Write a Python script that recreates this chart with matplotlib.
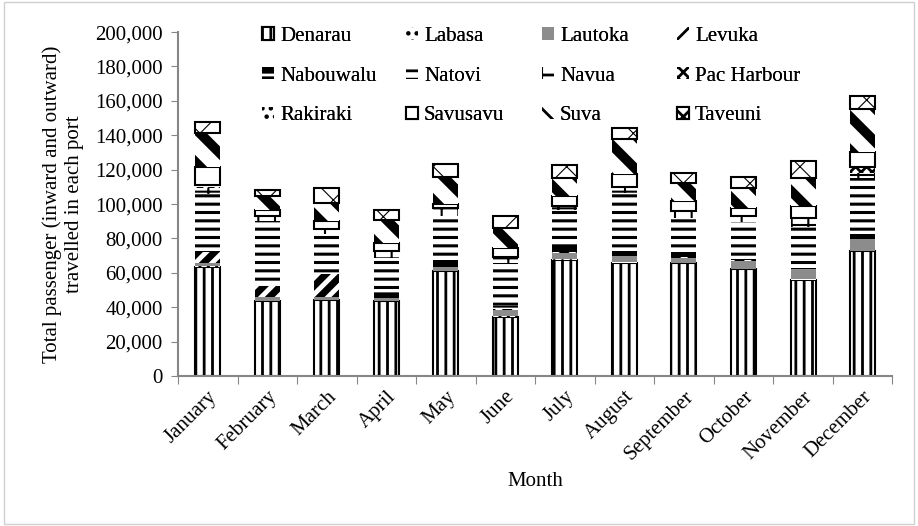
import matplotlib
matplotlib.use("Agg")
import matplotlib.pyplot as plt
from matplotlib.patches import Rectangle
from matplotlib.ticker import FuncFormatter, FixedLocator
import numpy as np

plt.rcParams['font.family'] = ['Liberation Serif', 'DejaVu Serif']
plt.rcParams['hatch.color'] = 'black'
plt.rcParams['hatch.linewidth'] = 2.0

months = ["January", "February", "March", "April", "May", "June", "July",
          "August", "September", "October", "November", "December"]

Denarau = [63500, 43500, 44000, 43500, 61000, 34500, 67500, 66000, 65500, 62000, 56000, 72500]
Labasa = [300, 300, 300, 300, 300, 300, 300, 300, 300, 300, 300, 300]
Lautoka = [2200, 1900, 1500, 1500, 1900, 3900, 3900, 3500, 2900, 4800, 5800, 6800]
Levuka = [6200, 6500, 13300, 300, 300, 300, 300, 300, 300, 200, 200, 300]
Nabouwalu = [400, 300, 300, 3700, 3800, 1800, 2800, 2800, 3200, 500, 500, 2800]
Natovi = [33500, 37500, 23000, 19200, 26000, 25000, 22000, 33800, 19800, 22000, 24000, 32500]
Navua = [3500, 2600, 2600, 3600, 3600, 2600, 1700, 2600, 3600, 2600, 4500, 3000]
PacHarbour = [400, 300, 300, 300, 300, 300, 300, 300, 300, 300, 500, 2800]
Rakiraki = [1000, 300, 300, 300, 300, 300, 300, 300, 300, 300, 400, 500]
Savusavu = [10700, 3600, 4500, 4500, 2600, 5500, 5500, 7400, 5500, 4900, 6500, 8500]
Suva = [19500, 7700, 10700, 13600, 15500, 11600, 10700, 20400, 10700, 11300, 16500, 25300]
Taveuni = [6800, 3900, 8700, 5800, 7800, 6800, 7200, 6800, 5800, 6800, 9700, 7600]

series = [
    ("Denarau", Denarau, dict(facecolor='white', edgecolor='black', hatch='||', linewidth=1.5), 2.0),
    ("Labasa", Labasa, dict(facecolor='white', edgecolor='black', hatch='..', linewidth=0), 1.0),
    ("Lautoka", Lautoka, dict(facecolor='#8c8c8c', edgecolor='#8c8c8c', hatch='', linewidth=0), 1.0),
    ("Levuka", Levuka, dict(facecolor='white', edgecolor='black', hatch='//', linewidth=0), 5.0),
    ("Nabouwalu", Nabouwalu, dict(facecolor='black', edgecolor='white', hatch='-', linewidth=0), 1.0),
    ("Natovi", Natovi, dict(facecolor='white', edgecolor='black', hatch='--', linewidth=0), 2.2),
    ("Navua", Navua, dict(facecolor='white', edgecolor='black', hatch='+', linewidth=0), 1.5),
    ("Pac Harbour", PacHarbour, dict(facecolor='white', edgecolor='black', hatch='xxx', linewidth=0), 2.0),
    ("Rakiraki", Rakiraki, dict(facecolor='white', edgecolor='black', hatch='..', linewidth=0), 1.0),
    ("Savusavu", Savusavu, dict(facecolor='white', edgecolor='black', hatch='', linewidth=1.5), 1.0),
    ("Suva", Suva, dict(facecolor='white', edgecolor='black', hatch='\\', linewidth=0), 7.0),
    ("Taveuni", Taveuni, dict(facecolor='white', edgecolor='black', hatch='x', linewidth=1.5), 0.8),
]

fig = plt.figure(figsize=(9.18, 5.26), dpi=100)
ax = fig.add_axes([0.194, 0.285, 0.778, 0.654])

x = np.arange(len(months))
bottom = np.zeros(len(months))
handles = []
for name, vals, style, hlw in series:
    bars = ax.bar(x, vals, width=0.42, bottom=bottom, label=name, **style)
    for b in bars:
        try:
            b.set_hatch_linewidth(hlw)
        except Exception:
            pass
    handles.append(bars)
    bottom += np.array(vals)

ax.set_xlim(-0.5, len(months) - 0.5)
ax.set_ylim(0, 200000)
ax.yaxis.set_major_locator(FixedLocator(np.arange(0, 200001, 20000)))
ax.yaxis.set_major_formatter(FuncFormatter(lambda v, p: f"{int(v):,}"))

ax.set_xticks(np.arange(-0.5, len(months), 1.0))
ax.set_xticklabels([])
ax.set_xticks(x, minor=True)
ax.set_xticklabels(months, minor=True, rotation=45, ha='right', rotation_mode='anchor')
ax.tick_params(axis='x', which='minor', length=0, pad=8, labelsize=15)
ax.tick_params(axis='x', which='major', length=6, direction='out', color='#868686')
ax.tick_params(axis='y', length=5, direction='out', color='#868686', labelsize=15, pad=6)

for s in ['top', 'right']:
    ax.spines[s].set_visible(False)
for s in ['left', 'bottom']:
    ax.spines[s].set_color('#868686')
    ax.spines[s].set_linewidth(1.5)

ax.set_xlabel("Month", fontsize=15, labelpad=6)
ax.set_ylabel("Total passenger (inward and outward)\ntravelled in each port", fontsize=15, labelpad=8)

# legend: 3 rows x 4 columns, each column placed at its own x position
col_left_px = [262, 406, 542, 677]
for c in range(4):
    idx = [c, c + 4, c + 8]
    lg = fig.legend([handles[i] for i in idx], [series[i][0] for i in idx],
                    ncol=1, loc='upper left',
                    bbox_to_anchor=((col_left_px[c] - 8) / 918, 0.965),
                    frameon=False, fontsize=15, handlelength=0.55, handleheight=0.55,
                    handletextpad=0.3, labelspacing=1.0, borderaxespad=0)
    fig.add_artist(lg)

fig.patches.append(Rectangle((0.004, 0.004), 0.992, 0.992, transform=fig.transFigure,
                             fill=False, edgecolor='#d0d0d0', linewidth=1.0))

fig.savefig("out.png", dpi=100)
